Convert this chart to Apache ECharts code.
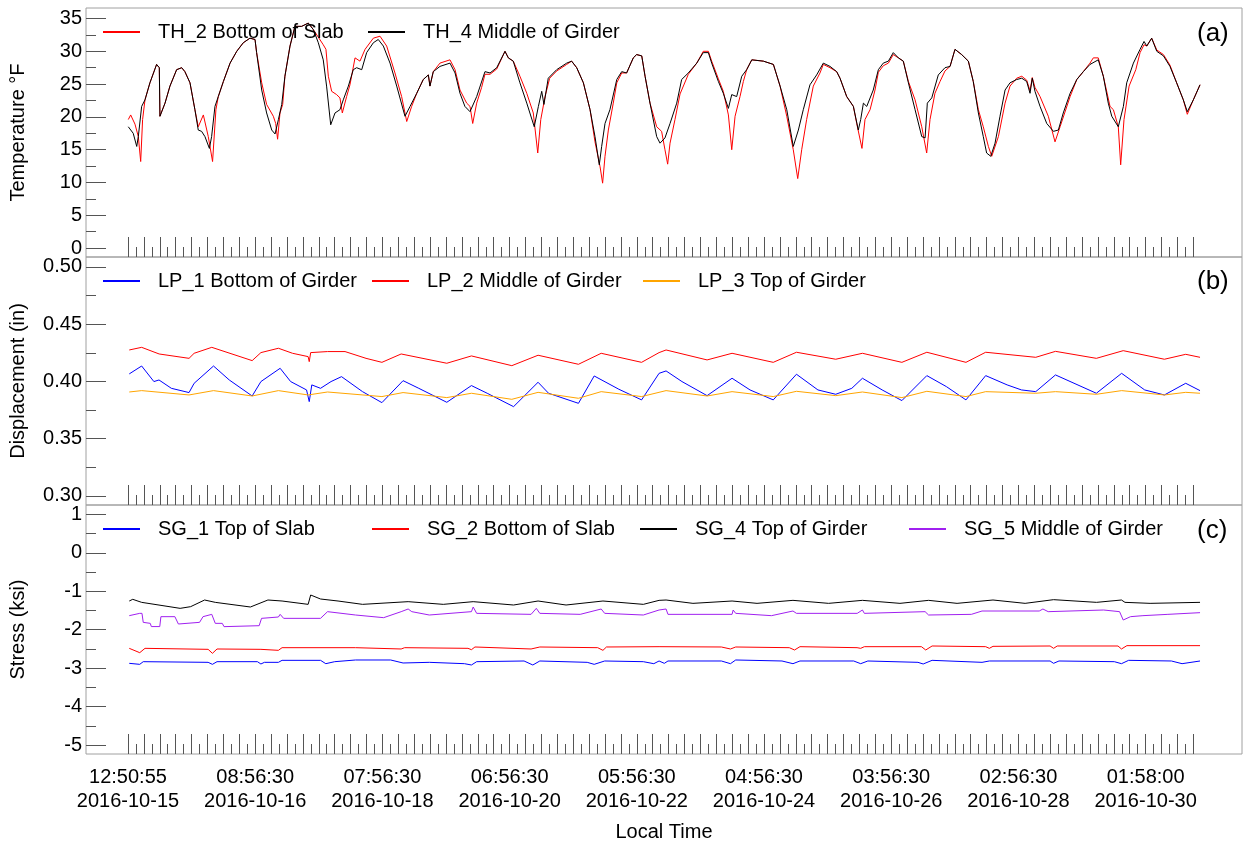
<!DOCTYPE html>
<html><head><meta charset="utf-8">
<script src="https://cdn.jsdelivr.net/npm/echarts@6/dist/echarts.min.js"></script>
<style>html,body{margin:0;padding:0;background:#fff}#c{width:1243px;height:844px}</style>
</head><body><div id="c"></div>
<script>
// x values are sample positions in axis-tick units (one long tick = 1)
const timeLabels = ['12:50:55\n2016-10-15','08:56:30\n2016-10-16','07:56:30\n2016-10-18','06:56:30\n2016-10-20','05:56:30\n2016-10-22','04:56:30\n2016-10-24','03:56:30\n2016-10-26','02:56:30\n2016-10-28','01:58:00\n2016-10-30'];
const labelTicks = [0, 8, 16, 24, 32, 40, 48, 56, 64];

const th2 = [[0.02,19.6],[0.17,20.3],[0.44,18.9],[0.65,17.0],[0.8,13.2],[0.92,19.6],[1.07,22.6],[1.38,25.2],[1.80,28.0],[1.97,27.5],[2.01,20.1],[2.33,22.1],[2.64,24.7],[3.06,27.2],[3.38,27.5],[3.58,26.9],[3.90,25.2],[4.21,21.1],[4.42,18.5],[4.74,20.3],[5.05,17.0],[5.32,13.2],[5.53,21.1],[5.68,23.1],[6.0,25.4],[6.42,28.2],[6.84,30.0],[7.25,31.3],[7.67,32.0],[7.99,31.8],[8.09,29.8],[8.41,25.2],[8.72,21.9],[9.14,20.1],[9.29,19.0],[9.41,16.6],[9.56,20.6],[9.73,21.9],[9.87,26.2],[10.19,30.8],[10.5,33.8],[10.92,33.8],[11.34,34.3],[11.66,33.3],[12.28,31.0],[12.45,30.3],[12.6,26.2],[12.81,23.9],[13.12,23.4],[13.33,22.9],[13.48,20.6],[13.75,23.1],[13.96,24.9],[14.28,29.0],[14.59,28.5],[14.91,30.3],[15.43,32.0],[15.85,32.3],[16.27,30.8],[16.79,26.7],[17.21,23.1],[17.53,19.3],[17.84,21.6],[18.16,23.6],[18.57,25.7],[18.89,26.4],[18.99,24.7],[19.2,26.9],[19.62,28.2],[20.25,28.7],[20.57,27.2],[20.88,24.1],[21.3,22.1],[21.51,21.6],[21.68,19.0],[21.93,22.1],[22.24,24.5],[22.45,26.5],[22.77,26.5],[23.19,27.3],[23.71,30.0],[23.92,29.0],[24.23,28.5],[24.65,26.2],[25.08,23.6],[25.49,20.6],[25.77,14.5],[25.96,19.6],[26.23,23.1],[26.52,25.9],[26.96,27.0],[27.59,28.0],[27.9,28.5],[28.22,27.5],[28.64,25.2],[29.06,21.1],[29.37,16.2],[29.69,12.4],[29.85,9.9],[30.0,14.0],[30.21,18.0],[30.52,22.1],[30.74,25.2],[31.05,26.7],[31.36,26.7],[31.78,29.0],[31.99,29.5],[32.31,29.3],[32.52,26.2],[32.83,22.1],[33.25,18.5],[33.56,17.8],[33.77,15.0],[33.94,12.8],[34.09,16.0],[34.4,19.6],[34.72,23.5],[35.24,26.5],[35.77,28.2],[36.18,30.0],[36.5,30.0],[36.71,28.5],[37.13,25.8],[37.44,23.9],[37.76,20.3],[37.97,15.0],[38.18,20.1],[38.49,23.1],[38.7,25.4],[38.91,27.2],[39.23,28.7],[39.96,28.5],[40.59,28.0],[41.01,24.7],[41.43,20.1],[41.84,15.0],[42.12,10.6],[42.37,15.0],[42.68,19.6],[43.1,24.7],[43.52,26.7],[43.73,28.0],[44.15,27.5],[44.57,26.9],[44.78,25.9],[45.2,23.1],[45.62,21.6],[45.83,19.0],[46.16,15.2],[46.35,19.6],[46.67,21.1],[46.98,24.1],[47.19,26.8],[47.5,27.8],[47.82,28.2],[48.13,29.5],[48.45,29.0],[48.76,28.5],[49.08,25.4],[49.5,22.6],[49.92,18.5],[50.23,14.5],[50.44,19.6],[50.75,23.6],[51.07,25.4],[51.38,27.0],[51.7,27.7],[52.01,30.3],[52.43,29.5],[52.85,28.5],[53.16,25.4],[53.48,21.1],[53.79,18.5],[54.11,15.5],[54.32,14.0],[54.74,17.0],[55.16,22.1],[55.47,24.7],[55.89,25.9],[56.21,26.2],[56.52,25.6],[56.73,24.0],[56.87,26.0],[57.04,24.5],[57.36,23.1],[57.88,20.1],[58.3,16.2],[58.62,18.5],[59.25,23.1],[59.67,25.7],[60.08,26.9],[60.5,28.2],[60.71,29.0],[61.02,29.0],[61.34,26.2],[61.76,21.6],[61.97,21.1],[62.28,18.5],[62.43,12.7],[62.64,19.6],[62.96,24.7],[63.38,27.2],[63.65,29.8],[63.9,31.0],[64.07,30.8],[64.38,32.0],[64.7,30.2],[65.12,29.5],[65.53,27.9],[65.95,25.2],[66.37,22.6],[66.62,20.4],[67.0,22.6],[67.42,24.9]];

const th4 = [[0.02,18.5],[0.13,18.8],[0.33,17.5],[0.55,15.5],[0.65,17.0],[0.86,21.6],[1.07,22.6],[1.38,25.2],[1.80,28.0],[1.97,27.5],[2.01,20.1],[2.33,22.1],[2.64,24.7],[3.06,27.2],[3.38,27.5],[3.58,26.9],[3.90,25.2],[4.21,21.1],[4.42,18.0],[4.63,17.8],[4.84,17.0],[5.12,15.2],[5.26,17.0],[5.47,21.6],[5.68,23.1],[6.0,25.4],[6.42,28.2],[6.84,30.0],[7.25,31.3],[7.67,32.0],[7.99,31.8],[8.09,29.8],[8.41,24.1],[8.72,20.6],[9.04,18.0],[9.25,17.4],[9.46,19.6],[9.67,21.9],[9.87,26.2],[10.19,30.8],[10.5,33.8],[10.92,33.8],[11.34,34.3],[11.66,33.3],[11.97,31.3],[12.28,28.7],[12.49,24.7],[12.75,18.8],[13.02,20.6],[13.33,21.1],[13.54,22.6],[13.86,24.7],[14.17,27.2],[14.38,27.5],[14.7,27.2],[15.01,29.8],[15.43,31.3],[15.74,31.8],[16.06,30.8],[16.48,28.2],[16.9,24.7],[17.42,20.1],[17.74,21.6],[18.16,23.6],[18.57,25.7],[18.89,26.4],[18.99,24.7],[19.2,26.9],[19.62,27.7],[20.25,28.2],[20.57,26.7],[20.88,23.6],[21.19,21.6],[21.51,20.8],[21.93,23.1],[22.45,26.9],[22.77,26.7],[23.19,27.5],[23.71,30.0],[23.92,29.0],[24.23,28.5],[24.65,25.2],[25.08,22.1],[25.55,18.5],[25.81,21.6],[26.02,23.9],[26.16,21.9],[26.43,25.9],[26.96,27.2],[27.59,28.2],[27.9,28.5],[28.22,27.5],[28.64,25.2],[29.06,21.1],[29.37,17.0],[29.64,12.7],[29.79,15.5],[30.0,19.0],[30.31,21.1],[30.74,25.7],[31.05,26.9],[31.36,26.7],[31.78,29.0],[31.99,29.5],[32.31,29.3],[32.52,26.2],[32.83,22.1],[33.25,17.0],[33.46,16.0],[33.77,16.8],[34.09,19.0],[34.51,22.1],[34.82,25.7],[35.24,26.7],[35.77,28.2],[36.18,29.8],[36.5,29.8],[36.71,28.2],[37.13,25.4],[37.44,23.6],[37.76,21.3],[37.97,23.4],[38.28,23.1],[38.6,26.2],[38.91,27.2],[39.23,28.7],[39.96,28.5],[40.59,28.0],[41.01,24.7],[41.43,21.1],[41.84,15.5],[42.16,18.0],[42.47,21.1],[42.89,24.9],[43.31,26.4],[43.73,28.2],[44.15,27.7],[44.57,26.9],[44.78,25.9],[45.2,23.1],[45.62,21.6],[45.93,18.0],[46.08,19.6],[46.25,22.1],[46.46,21.6],[46.87,24.1],[47.19,27.2],[47.5,28.2],[47.82,28.5],[48.13,29.8],[48.45,29.0],[48.76,28.5],[49.08,25.2],[49.5,21.1],[49.92,17.0],[50.13,16.8],[50.27,22.1],[50.55,22.9],[50.96,26.4],[51.38,27.5],[51.7,27.7],[52.01,30.3],[52.43,29.5],[52.85,28.5],[53.16,25.4],[53.48,20.6],[53.79,17.0],[54.0,14.5],[54.26,14.0],[54.53,16.0],[54.84,20.1],[55.16,24.1],[55.47,25.2],[55.89,25.7],[56.21,25.9],[56.52,25.4],[56.73,23.6],[56.87,25.9],[57.04,23.9],[57.36,21.6],[57.78,19.0],[58.2,17.8],[58.51,18.0],[58.82,20.6],[59.25,23.6],[59.67,25.7],[60.08,26.9],[60.5,28.0],[61.02,28.7],[61.34,26.2],[61.65,22.1],[61.87,20.1],[62.28,18.5],[62.6,21.6],[62.81,25.2],[63.23,28.2],[63.65,30.3],[63.9,31.5],[64.07,30.8],[64.38,32.0],[64.7,30.0],[65.12,29.3],[65.53,27.7],[65.95,25.2],[66.37,22.6],[66.62,20.8],[67.0,22.6],[67.42,24.9]];

const lp1 = [[0.08,0.4066],[0.86,0.4135],[1.63,0.3999],[1.95,0.4013],[2.73,0.3940],[3.84,0.3903],[4.16,0.3984],[5.38,0.4135],[6.37,0.4013],[7.81,0.3873],[8.36,0.3999],[9.57,0.4115],[10.23,0.3999],[11.23,0.3926],[11.4,0.3824],[11.56,0.3970],[12.11,0.3940],[12.77,0.3999],[13.43,0.4042],[14.75,0.3911],[15.97,0.3815],[17.3,0.4007],[18.29,0.3940],[20.05,0.3818],[21.6,0.3964],[22.59,0.3897],[24.25,0.3780],[25.79,0.3993],[26.45,0.3897],[28.33,0.3809],[29.32,0.4048],[30.87,0.3932],[32.3,0.3839],[33.4,0.4071],[33.84,0.4092],[34.84,0.3999],[36.42,0.3876],[37.99,0.4028],[39.12,0.3926],[40.58,0.3839],[42.04,0.4063],[43.39,0.3926],[44.51,0.3888],[45.52,0.3940],[46.19,0.4028],[47.43,0.3926],[48.67,0.3833],[50.24,0.4051],[51.47,0.3955],[52.7,0.3839],[53.94,0.4051],[55.29,0.3970],[56.19,0.3926],[57.09,0.3911],[58.33,0.4057],[60.9,0.3897],[62.49,0.4071],[63.94,0.3926],[65.18,0.3882],[66.52,0.3984],[67.42,0.3920]];

const lp2 = [[0.08,0.4275],[0.86,0.4298],[1.96,0.4240],[3.84,0.4202],[4.16,0.4246],[5.27,0.4298],[7.81,0.4182],[8.36,0.4252],[9.46,0.4290],[10.35,0.4246],[11.33,0.4217],[11.4,0.4173],[11.49,0.4252],[12.55,0.4261],[13.65,0.4261],[14.97,0.4202],[15.97,0.4167],[17.18,0.4240],[20.05,0.4159],[21.6,0.4223],[24.14,0.4138],[25.79,0.4229],[28.33,0.4150],[29.76,0.4246],[32.3,0.4167],[33.4,0.4252],[33.84,0.4275],[36.42,0.4188],[37.99,0.4246],[40.58,0.4167],[42.04,0.4255],[44.51,0.4194],[46.19,0.4246],[48.67,0.4167],[50.24,0.4255],[52.7,0.4167],[53.94,0.4255],[57.09,0.4211],[58.33,0.4263],[60.9,0.4202],[62.59,0.4269],[65.18,0.4194],[66.52,0.4237],[67.42,0.4211]];

const lp3 = [[0.08,0.3908],[0.86,0.3920],[3.84,0.3882],[5.38,0.3920],[7.81,0.3873],[9.46,0.3920],[11.33,0.3882],[12.55,0.3908],[15.97,0.3868],[17.3,0.3903],[20.05,0.3859],[21.6,0.3897],[24.14,0.3844],[25.79,0.3905],[28.33,0.3853],[29.76,0.3911],[32.3,0.3868],[33.84,0.3920],[36.42,0.3873],[37.99,0.3911],[40.58,0.3868],[42.04,0.3914],[44.51,0.3876],[46.19,0.3908],[48.67,0.3859],[50.24,0.3914],[52.7,0.3868],[53.94,0.3911],[57.09,0.3897],[58.33,0.3911],[60.9,0.3888],[62.49,0.3920],[65.18,0.3882],[66.52,0.3905],[67.42,0.3897]];

const sg1 = [[0.08,-2.876],[0.74,-2.902],[0.96,-2.833],[5.04,-2.850],[5.31,-2.902],[5.6,-2.833],[8.14,-2.833],[8.36,-2.893],[8.58,-2.850],[9.46,-2.850],[9.69,-2.798],[12.11,-2.798],[12.44,-2.885],[13.0,-2.833],[14.31,-2.789],[16.52,-2.789],[17.3,-2.867],[18.95,-2.850],[21.16,-2.885],[21.6,-2.919],[21.93,-2.833],[24.91,-2.815],[25.46,-2.919],[25.9,-2.815],[28.88,-2.850],[29.32,-2.902],[29.98,-2.815],[32.41,-2.833],[33.07,-2.885],[33.4,-2.815],[33.73,-2.876],[33.96,-2.815],[37.32,-2.815],[37.89,-2.885],[38.22,-2.789],[41.13,-2.815],[41.82,-2.885],[42.26,-2.815],[45.64,-2.815],[46.08,-2.885],[46.53,-2.815],[49.68,-2.850],[50.01,-2.893],[50.57,-2.798],[53.71,-2.850],[54.17,-2.815],[57.99,-2.815],[58.21,-2.876],[58.55,-2.815],[62.03,-2.833],[62.48,-2.885],[62.93,-2.798],[65.62,-2.815],[66.29,-2.885],[67.42,-2.815]];

const sg2 = [[0.08,-2.486],[0.74,-2.599],[1.07,-2.486],[5.04,-2.512],[5.31,-2.616],[5.6,-2.503],[8.36,-2.512],[9.46,-2.538],[9.69,-2.469],[14.31,-2.469],[17.18,-2.503],[17.4,-2.469],[21.38,-2.486],[21.6,-2.521],[21.82,-2.451],[25.35,-2.503],[25.9,-2.451],[29.54,-2.469],[29.87,-2.538],[30.09,-2.451],[33.4,-2.443],[37.32,-2.451],[37.89,-2.503],[38.22,-2.451],[41.59,-2.469],[41.92,-2.529],[42.26,-2.443],[45.85,-2.469],[46.08,-2.486],[46.31,-2.443],[49.9,-2.443],[50.17,-2.529],[50.57,-2.425],[53.94,-2.443],[54.17,-2.486],[54.4,-2.434],[57.99,-2.425],[58.21,-2.486],[58.44,-2.425],[62.26,-2.425],[62.48,-2.503],[62.82,-2.416],[67.42,-2.416]];

const sg4 = [[0.08,-1.255],[0.3,-1.211],[0.86,-1.290],[3.28,-1.446],[3.94,-1.402],[4.82,-1.229],[5.49,-1.290],[7.7,-1.411],[8.8,-1.229],[9.69,-1.255],[11.33,-1.342],[11.49,-1.099],[12.11,-1.203],[13.21,-1.255],[14.75,-1.342],[17.62,-1.272],[19.83,-1.342],[21.71,-1.272],[24.25,-1.359],[25.79,-1.255],[27.55,-1.359],[29.87,-1.255],[32.41,-1.342],[33.4,-1.238],[33.84,-1.229],[35.53,-1.316],[37.99,-1.255],[39.56,-1.316],[41.82,-1.238],[44.06,-1.316],[46.19,-1.238],[48.55,-1.316],[50.35,-1.238],[52.14,-1.316],[54.4,-1.229],[56.42,-1.316],[58.21,-1.220],[60.91,-1.290],[62.48,-1.229],[62.7,-1.290],[64.28,-1.316],[67.42,-1.290]];

const sg5 = [[0.08,-1.636],[0.74,-1.576],[0.88,-1.576],[0.96,-1.810],[1.4,-1.836],[1.47,-1.92],[2.0,-1.92],[2.07,-1.662],[2.95,-1.662],[3.17,-1.853],[4.5,-1.810],[4.72,-1.662],[5.27,-1.602],[5.49,-1.836],[5.93,-1.836],[6.04,-1.922],[8.25,-1.897],[8.4,-1.706],[9.46,-1.671],[9.57,-1.602],[9.79,-1.706],[12.11,-1.706],[12.55,-1.532],[14.31,-1.619],[16.08,-1.688],[17.18,-1.532],[17.62,-1.463],[17.85,-1.532],[18.95,-1.619],[21.6,-1.532],[21.71,-1.411],[21.93,-1.576],[25.35,-1.602],[25.68,-1.446],[25.9,-1.576],[28.44,-1.602],[29.76,-1.463],[29.98,-1.576],[32.41,-1.619],[33.4,-1.489],[33.84,-1.463],[33.96,-1.602],[37.99,-1.602],[38.06,-1.489],[38.22,-1.576],[40.47,-1.636],[41.82,-1.515],[42.04,-1.576],[45.86,-1.576],[46.19,-1.489],[46.31,-1.576],[50.13,-1.532],[50.35,-1.619],[53.04,-1.602],[53.71,-1.515],[57.31,-1.515],[57.54,-1.463],[57.87,-1.532],[61.36,-1.489],[62.36,-1.532],[62.59,-1.749],[63.05,-1.662],[63.83,-1.636],[65.4,-1.602],[67.42,-1.558]];

const tempTicks = [0, 5, 10, 15, 20, 25, 30, 35];
const tempMinor = [2.5, 7.5, 12.5, 17.5, 22.5, 27.5, 32.5];
const dispTicks = [0.30, 0.35, 0.40, 0.45, 0.50];
const dispMinor = [0.325, 0.375, 0.425, 0.475];
const stressTicks = [-5, -4, -3, -2, -1, 0, 1];
const stressMinor = [-4.5, -3.5, -2.5, -1.5, -0.5, 0.5];

const majorTicks = Array.from({length: 68}, (_, i) => i);
const minorTicks = Array.from({length: 67}, (_, i) => i + 0.5);

const FONT = '"Liberation Sans", Arial, sans-serif';
const X_MIN = -2.64, X_MAX = 70.06;
const TICK_COLOR = '#555';
const BORDER = '#a0a0a0';

const panels = [
  {top: 8, height: 249, min: -1.35, max: 36.6, ticks: tempTicks, minor: tempMinor, name: 'Temperature °F', fmt: v => String(v)},
  {top: 257, height: 248, min: 0.2921, max: 0.5087, ticks: dispTicks, minor: dispMinor, name: 'Displacement (in)', fmt: v => v.toFixed(2)},
  {top: 505, height: 249, min: -5.234, max: 1.242, ticks: stressTicks, minor: stressMinor, name: 'Stress (ksi)', fmt: v => String(v)}
];

const grid = [], xAxis = [], yAxis = [];
panels.forEach((p, i) => {
  grid.push({left: 86, right: 1, top: p.top, height: p.height, show: true, borderColor: BORDER, borderWidth: 1, backgroundColor: 'transparent'});
  const last = i === 2;
  xAxis.push({
    type: 'value', gridIndex: i, min: X_MIN, max: X_MAX, position: 'bottom',
    axisLine: {show: false, onZero: false},
    axisTick: {show: true, inside: true, length: 20, customValues: majorTicks, lineStyle: {color: TICK_COLOR, width: 1}},
    axisLabel: last ? {show: true, customValues: labelTicks, formatter: v => timeLabels[labelTicks.indexOf(Math.round(v))] || '', fontSize: 20, lineHeight: 24, margin: 11, color: '#000', fontFamily: FONT} : {show: false},
    splitLine: {show: false},
    name: last ? 'Local Time' : '', nameLocation: 'middle', nameGap: 68,
    nameTextStyle: {fontSize: 20, color: '#000', fontFamily: FONT}
  });
  xAxis.push({
    type: 'value', gridIndex: i, min: X_MIN, max: X_MAX, position: 'bottom',
    axisLine: {show: false, onZero: false},
    axisTick: {show: true, inside: true, length: 10, customValues: minorTicks, lineStyle: {color: TICK_COLOR, width: 1}},
    axisLabel: {show: false}, splitLine: {show: false}
  });
  yAxis.push({
    type: 'value', gridIndex: i, min: p.min, max: p.max, position: 'left',
    axisLine: {show: false, onZero: false},
    axisTick: {show: true, inside: true, length: 20, customValues: p.ticks, lineStyle: {color: TICK_COLOR, width: 1}},
    axisLabel: {show: true, customValues: p.ticks, formatter: p.fmt, fontSize: 20, margin: 4, color: '#000', fontFamily: FONT},
    splitLine: {show: false},
    name: p.name, nameLocation: 'middle', nameGap: 58, nameRotate: 90,
    nameTextStyle: {fontSize: 20, color: '#000', fontFamily: FONT}
  });
  yAxis.push({
    type: 'value', gridIndex: i, min: p.min, max: p.max, position: 'left',
    axisLine: {show: false, onZero: false},
    axisTick: {show: true, inside: true, length: 10, customValues: p.minor, lineStyle: {color: TICK_COLOR, width: 1}},
    axisLabel: {show: false}, splitLine: {show: false}
  });
});

const seriesDefs = [
  {name: 'TH_2 Bottom of Slab', data: th2, color: '#ff0000', panel: 0},
  {name: 'TH_4 Middle of Girder', data: th4, color: '#000000', panel: 0},
  {name: 'LP_1 Bottom of Girder', data: lp1, color: '#0000ff', panel: 1},
  {name: 'LP_2 Middle of Girder', data: lp2, color: '#ff0000', panel: 1},
  {name: 'LP_3 Top of Girder', data: lp3, color: '#ffa500', panel: 1},
  {name: 'SG_1 Top of Slab', data: sg1, color: '#0000ff', panel: 2},
  {name: 'SG_2 Bottom of Slab', data: sg2, color: '#ff0000', panel: 2},
  {name: 'SG_4 Top of Girder', data: sg4, color: '#000000', panel: 2},
  {name: 'SG_5 Middle of Girder', data: sg5, color: '#a020f0', panel: 2}
];
const legendLefts = [[103, 368], [103, 372, 643], [103, 372, 640, 909]];
const legendTops = [22, 271, 519];

const series = seriesDefs.map(s => ({
  name: s.name, type: 'line', xAxisIndex: s.panel * 2, yAxisIndex: s.panel * 2,
  data: s.data, showSymbol: false, symbol: 'none', color: s.color,
  lineStyle: {color: s.color, width: 1}, silent: true, z: 3
}));

const legend = [];
const counters = [0, 0, 0];
seriesDefs.forEach(s => {
  const k = counters[s.panel]++;
  legend.push({
    data: [s.name], left: legendLefts[s.panel][k], top: legendTops[s.panel],
    icon: 'rect', itemWidth: 37, itemHeight: 2, padding: 0, selectedMode: false,
    textStyle: {fontSize: 20, color: '#000', fontFamily: FONT, padding: [0, 0, 0, 13]}
  });
});

const title = [['(a)', 21], ['(b)', 269], ['(c)', 518]].map(([t, top]) => ({
  text: t, left: 1197, top: top, padding: 0,
  textStyle: {fontSize: 26, fontWeight: 'normal', color: '#000', fontFamily: FONT}
}));

const chart = echarts.init(document.getElementById('c'), null, {renderer: 'canvas'});
chart.setOption({
  animation: false, backgroundColor: '#fff',
  title, legend, grid, xAxis, yAxis, series
});
</script>
</body></html>
